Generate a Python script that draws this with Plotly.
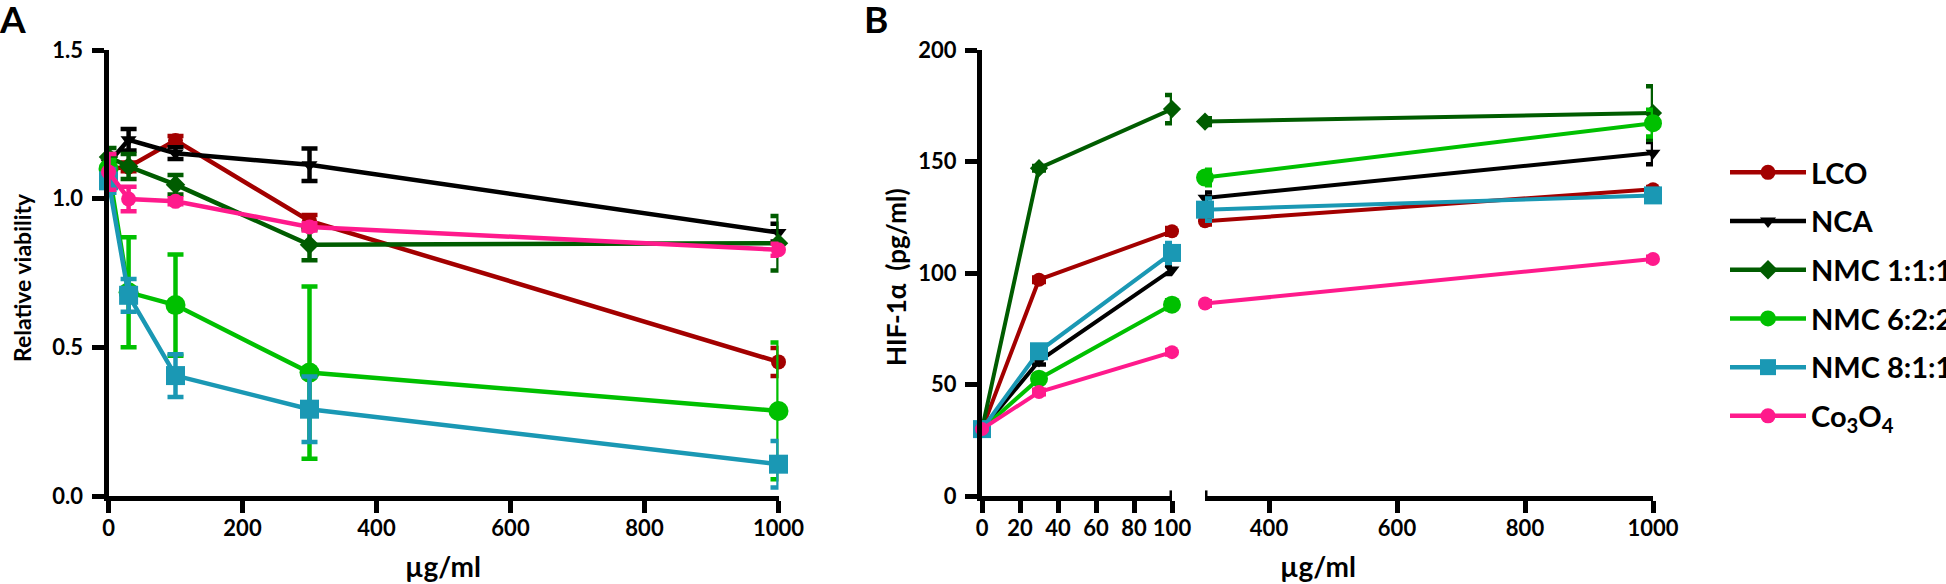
import plotly.graph_objects as go

# ---------------- data ----------------
series = ["LCO", "NCA", "NMC 1:1:1", "NMC 6:2:2", "NMC 8:1:1", "Co<sub>3</sub>O<sub>4</sub>"]
colors = ["#a30000", "#000000", "#005c00", "#00c000", "#1a98b4", "#ff1a8c"]
symbols = ["circle", "triangle-down", "diamond", "circle", "square", "circle"]

# Panel A: relative viability
conc_a = [0, 30, 100, 300, 1000]
viab_lco = [1.10, 1.107, 1.196, 0.925, 0.451]
viab_nca = [1.12, 1.198, 1.153, 1.114, 0.886]
viab_nmc111 = [1.14, 1.108, 1.047, 0.845, 0.850]
viab_nmc622 = [1.10, 0.685, 0.642, 0.415, 0.286]
viab_nmc811 = [1.06, 0.675, 0.405, 0.292, 0.107]
viab_co3o4 = [1.09, 0.999, 0.991, 0.905, 0.828]
err_lco = [0.02, 0.015, 0.015, 0.02, 0.047]
err_nca = [0.03, 0.036, 0.02, 0.055, 0.03]
err_nmc111 = [0.03, 0.042, 0.033, 0.052, 0.092]
err_nmc622 = [0.03, 0.185, 0.17, 0.29, 0.23]
err_nmc811 = [0.04, 0.055, 0.072, 0.11, 0.078]
err_co3o4 = [0.06, 0.041, 0.01, 0.012, 0.02]

# Panel B: HIF-1alpha (pg/ml), broken x axis
conc_low = [0, 30, 100]
conc_high = [300, 1000]
hif_lco_low = [30, 97.0, 118.7]
hif_lco_high = [123.2, 137.6]
hif_nca_low = [30, 60.5, 101.5]
hif_nca_high = [133.6, 153.8]
hif_nmc111_low = [30, 147.0, 173.5]
hif_nmc111_high = [167.9, 171.7]
hif_nmc622_low = [30, 52.6, 85.8]
hif_nmc622_high = [142.8, 167.2]
hif_nmc811_low = [30, 64.9, 109.0]
hif_nmc811_high = [128.4, 134.8]
hif_co3o4_low = [30, 46.6, 64.5]
hif_co3o4_high = [86.3, 106.3]
herr_lco_low = [0, 1.0, 1.5]
herr_lco_high = [1.5, 1.0]
herr_nca_low = [0, 1.5, 2.0]
herr_nca_high = [2.5, 5.0]
herr_nmc111_low = [0, 1.0, 6.3]
herr_nmc111_high = [1.5, 12.0]
herr_nmc622_low = [0, 1.5, 2.0]
herr_nmc622_high = [3.5, 6.0]
herr_nmc811_low = [0, 1.5, 4.5]
herr_nmc811_high = [5.0, 1.5]
herr_co3o4_low = [0, 1.0, 1.0]
herr_co3o4_high = [1.0, 1.0]

viab = [viab_lco, viab_nca, viab_nmc111, viab_nmc622, viab_nmc811, viab_co3o4]
verr = [err_lco, err_nca, err_nmc111, err_nmc622, err_nmc811, err_co3o4]
hlow = [hif_lco_low, hif_nca_low, hif_nmc111_low, hif_nmc622_low, hif_nmc811_low, hif_co3o4_low]
hhigh = [hif_lco_high, hif_nca_high, hif_nmc111_high, hif_nmc622_high, hif_nmc811_high, hif_co3o4_high]
helow = [herr_lco_low, herr_nca_low, herr_nmc111_low, herr_nmc622_low, herr_nmc811_low, herr_co3o4_low]
hehigh = [herr_lco_high, herr_nca_high, herr_nmc111_high, herr_nmc622_high, herr_nmc811_high, herr_co3o4_high]

size_a = [15, 14, 15, 20, 19, 15]
size_b = [14, 13, 14, 18, 18, 14]

W, H = 1946, 584
FONT = "Lato"
PAD = "\u00a0" * 12  # keeps the legend text box wide enough

def px(x):
    return x / W

def py(y):
    return 1 - y / H

fig = go.Figure()

for i, name in enumerate(series):
    fig.add_trace(go.Scatter(
        x=conc_a, y=viab[i], name=name + PAD, legendgroup=name, showlegend=True,
        mode="lines+markers", cliponaxis=False,
        line=dict(color=colors[i], width=4.5),
        marker=dict(symbol=symbols[i], size=size_a[i], color=colors[i]),
        error_y=dict(type="data", array=verr[i], color=colors[i], thickness=4.5, width=8),
        xaxis="x", yaxis="y"))

for i, name in enumerate(series):
    fig.add_trace(go.Scatter(
        x=conc_low, y=hlow[i], name=name, legendgroup=name, showlegend=False,
        mode="lines+markers", cliponaxis=False,
        line=dict(color=colors[i], width=4),
        marker=dict(symbol=symbols[i], size=size_b[i], color=colors[i]),
        error_y=dict(type="data", array=helow[i], color=colors[i], thickness=4.5, width=7),
        xaxis="x2", yaxis="y2"))
    fig.add_trace(go.Scatter(
        x=conc_high, y=hhigh[i], name=name, legendgroup=name, showlegend=False,
        mode="lines+markers", cliponaxis=False,
        line=dict(color=colors[i], width=4),
        marker=dict(symbol=symbols[i], size=size_b[i], color=colors[i]),
        error_y=dict(type="data", array=hehigh[i], color=colors[i], thickness=4.5, width=7),
        xaxis="x3", yaxis="y2"))

tickfont = dict(family=FONT, size=22, color="black", weight="bold")
axcommon = dict(showline=True, linewidth=5, linecolor="black", ticks="outside",
                ticklen=12, tickwidth=5, tickcolor="black", showgrid=False,
                zeroline=False, tickfont=tickfont, fixedrange=True, automargin=False)

ydom = [py(496), py(50)]

fig.update_layout(
    template="none",
    width=W, height=H, autosize=False,
    margin=dict(l=0, r=0, t=0, b=0, autoexpand=False),
    paper_bgcolor="white", plot_bgcolor="rgba(0,0,0,0)",
    xaxis=dict(domain=[px(108.5), px(778.5)], range=[0, 1000], tickvals=[0, 200, 400, 600, 800, 1000],
               anchor="y", ticklabelstandoff=-3, **axcommon),
    yaxis=dict(domain=ydom, range=[0, 1.5], tickvals=[0, 0.5, 1.0, 1.5], ticktext=["0.0", "0.5", "1.0", "1.5"],
               anchor="x", ticklabelstandoff=4, **axcommon),
    xaxis2=dict(domain=[px(982), px(1172)], range=[0, 100], tickvals=[0, 20, 40, 60, 80, 100],
                anchor="y2", ticklabelstandoff=-3, **axcommon),
    xaxis3=dict(domain=[px(1205), px(1653)], range=[300, 1000], tickvals=[400, 600, 800, 1000],
                anchor="y2", ticklabelstandoff=-3, **axcommon),
    yaxis2=dict(domain=ydom, range=[0, 200], tickvals=[0, 50, 100, 150, 200],
                anchor="x2", ticklabelstandoff=4, **axcommon),
    legend=dict(x=px(1725), y=py(147), xanchor="left", yanchor="top",
                font=dict(family=FONT, size=29, color="black", weight="bold"),
                tracegroupgap=8, bgcolor="rgba(0,0,0,0)", itemwidth=76),
    font=dict(family=FONT),
)

# axis-break markers (small ticks above the axis at the break)
fig.add_shape(type="line", xref="x2", yref="y2", x0=100, x1=100, y0=-5.5, y1=2.5,
              line=dict(color="black", width=5))
fig.add_shape(type="line", xref="x3", yref="y2", x0=300, x1=300, y0=-5.5, y1=2.5,
              line=dict(color="black", width=5))

lab = dict(family=FONT, color="black", weight="bold")
annos = [
    dict(text="A", x=px(0), y=py(19), xanchor="left", yanchor="middle", xshift=-3, font=dict(size=37, **lab)),
    dict(text="B", x=px(862), y=py(19), xanchor="left", yanchor="middle", font=dict(size=37, **lab)),
    dict(text="µg/ml", x=px(443), y=py(566), xanchor="center", yanchor="middle", font=dict(size=28, **lab)),
    dict(text="µg/ml", x=px(1318), y=py(566), xanchor="center", yanchor="middle", font=dict(size=28, **lab)),
    dict(text="Relative viability", x=px(22), y=py(278), xanchor="center", yanchor="middle", textangle=-90,
         font=dict(size=23, **lab)),
    dict(text="HIF-1α  (pg/ml)", x=px(896), y=py(277), xanchor="center", yanchor="middle", textangle=-90,
         font=dict(size=26, **lab)),
]
for a in annos:
    fig.add_annotation(xref="paper", yref="paper", showarrow=False, **a)

fig.write_html("out.html", config={"displayModeBar": False},
               post_script="document.body.style.margin='0';document.body.style.overflow='hidden';")
